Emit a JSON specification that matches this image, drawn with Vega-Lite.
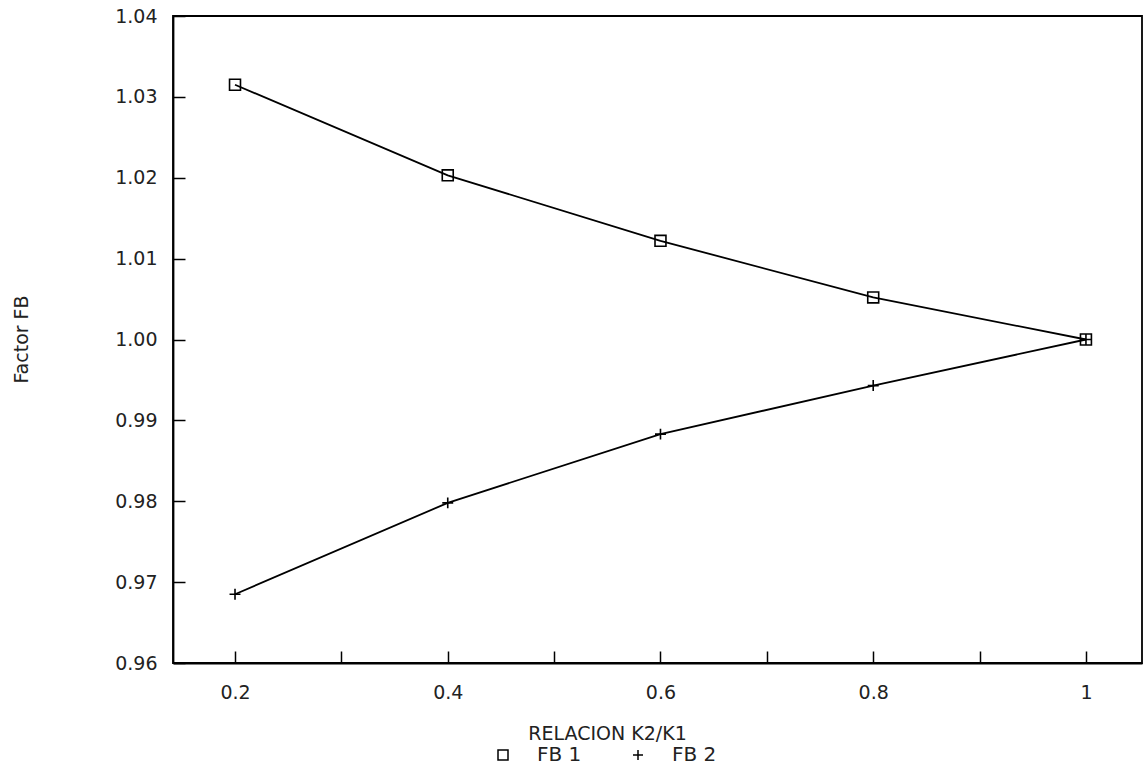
{
  "$schema": "https://vega.github.io/schema/vega-lite/v6.json",
  "width": 969,
  "height": 647,
  "autosize": {"type": "none"},
  "padding": {"left": 173, "top": 16, "right": 6, "bottom": 115},
  "background": "white",
  "config": {
    "view": {"stroke": "black", "strokeWidth": 1.8},
    "font": "DejaVu Sans",
    "axis": {"grid": false, "domainColor": "black", "domainWidth": 1.8, "tickColor": "black", "tickWidth": 1.5, "labelColor": "#222", "titleColor": "#222", "labelFontSize": 19, "titleFontSize": 19, "titleFontWeight": "normal"}
  },
  "data": {
    "values": [
      {"k": 0.2, "fb": 1.0315, "serie": "FB 1"},
      {"k": 0.4, "fb": 1.0203, "serie": "FB 1"},
      {"k": 0.6, "fb": 1.0122, "serie": "FB 1"},
      {"k": 0.8, "fb": 1.0052, "serie": "FB 1"},
      {"k": 1.0, "fb": 1.0000, "serie": "FB 1"},
      {"k": 0.2, "fb": 0.9685, "serie": "FB 2"},
      {"k": 0.4, "fb": 0.9798, "serie": "FB 2"},
      {"k": 0.6, "fb": 0.9883, "serie": "FB 2"},
      {"k": 0.8, "fb": 0.9943, "serie": "FB 2"},
      {"k": 1.0, "fb": 1.0000, "serie": "FB 2"}
    ]
  },
  "encoding": {
    "x": {
      "field": "k", "type": "quantitative",
      "scale": {"domain": [0.1417, 1.0527], "nice": false, "zero": false},
      "axis": {
        "title": "RELACION K2/K1",
        "values": [0.2, 0.3, 0.4, 0.5, 0.6, 0.7, 0.8, 0.9, 1.0],
        "format": "~g",
        "labelExpr": "indexof(['0.2','0.4','0.6','0.8','1'], datum.label) >= 0 ? datum.label : ''",
        "tickSize": -12,
        "labelPadding": 32,
        "titleX": 434,
        "titleY": 70,
        "titleAlign": "center",
        "titleBaseline": "middle"
      }
    },
    "y": {
      "field": "fb", "type": "quantitative",
      "scale": {"domain": [0.96, 1.04], "nice": false, "zero": false},
      "axis": {
        "title": "Factor FB",
        "values": [0.96, 0.97, 0.98, 0.99, 1.0, 1.01, 1.02, 1.03, 1.04],
        "format": ".2f",
        "tickSize": -12,
        "labelPadding": 28,
        "titleX": -152,
        "titleY": 323,
        "titleAlign": "center",
        "titleBaseline": "middle"
      }
    }
  },
  "layer": [
    {
      "mark": {"type": "line", "color": "black", "strokeWidth": 1.8},
      "encoding": {"detail": {"field": "serie"}}
    },
    {
      "mark": {"type": "point", "filled": false, "color": "black", "strokeWidth": 1.6, "size": 120, "opacity": 1},
      "encoding": {
        "shape": {
          "field": "serie", "type": "nominal",
          "scale": {"domain": ["FB 1", "FB 2"], "range": ["square", "M-1,0L1,0M0,-1L0,1"]},
          "legend": {
            "orient": "none",
            "legendX": 320,
            "legendY": 729,
            "direction": "horizontal",
            "title": null,
            "padding": 0,
            "labelFontSize": 20,
            "labelColor": "#222",
            "symbolSize": 100,
            "symbolStrokeColor": "black",
            "symbolStrokeWidth": 1.5,
            "symbolFillColor": "transparent",
            "labelOffset": 24,
            "columnPadding": 46
          }
        }
      }
    }
  ]
}
